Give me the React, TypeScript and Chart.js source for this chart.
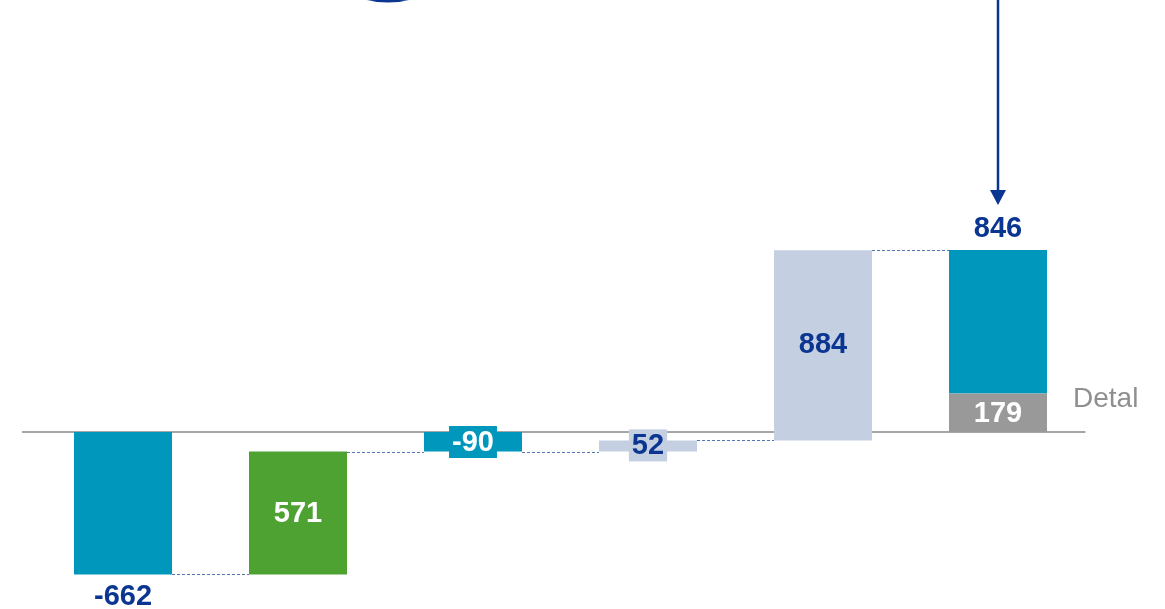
import React, { useEffect, useRef } from "react";
import { Chart, registerables } from "chart.js";

Chart.register(...registerables);

const categories = ["Start", "Step 1", "Step 2", "Step 3", "Step 4", "Total"];
const barLabels = ["-662", "571", "-90", "52", "884", "846"];
const barStart = [0, -662, -91, -91, -39, 179];
const barEnd = [-662, -91, 0, -39, 845, 846];
const connectorLevels = [-662, -91, -91, -39, 845];
const detailStart = [null, null, null, null, null, 0];
const detailEnd = [null, null, null, null, null, 179];
const detailLabel = "179";
const detailName = "Detal";

const TEAL = "#0097BC";
const GREEN = "#4EA232";
const LIGHT = "#C4CFE1";
const GRAY = "#999999";
const NAVY = "#0A3590";

const barColors = [TEAL, GREEN, TEAL, LIGHT, LIGHT, TEAL];
// label style: 0 below, 1 inside white, 2 boxed white on teal, 3 boxed navy on light, 4 inside navy, 5 above navy
const labelMode = [0, 1, 2, 3, 4, 5];

const FONT = "bold 29px 'Liberation Sans', Arial, sans-serif";

const overlay = {
  id: "overlay",
  beforeDatasetsDraw(chart: any) {
    const ctx = chart.ctx;
    const y0 = chart.scales.y.getPixelForValue(0);
    ctx.save();
    ctx.strokeStyle = "#A6A6A6";
    ctx.lineWidth = 2;
    ctx.beginPath();
    ctx.moveTo(22, y0);
    ctx.lineTo(chart.chartArea.right, y0);
    ctx.stroke();
    ctx.restore();
  },
  afterDatasetsDraw(chart: any) {
    const ctx = chart.ctx;
    const ys = chart.scales.y;
    const meta = chart.getDatasetMeta(0);
    const els = meta.data;
    ctx.save();
    // connectors
    ctx.setLineDash([3, 2]);
    ctx.lineWidth = 1;
    ctx.strokeStyle = "#5675B5";
    for (let i = 0; i < els.length - 1; i++) {
      const a = els[i];
      const b = els[i + 1];
      const level = connectorLevels[i];
      const y = Math.round(ys.getPixelForValue(level)) + 0.5;
      const ax = a.x + a.width / 2;
      const bx = b.x - b.width / 2;
      ctx.beginPath();
      ctx.moveTo(ax, y);
      ctx.lineTo(bx, y);
      ctx.stroke();
    }
    ctx.setLineDash([]);
    // labels
    ctx.font = FONT;
    ctx.textAlign = "center";
    ctx.textBaseline = "middle";
    els.forEach((el: any, i: number) => {
      const top = Math.min(el.y, el.base);
      const bottom = Math.max(el.y, el.base);
      const mid = (top + bottom) / 2;
      const t = barLabels[i];
      const mode = labelMode[i];
      if (mode === 0) {
        ctx.fillStyle = NAVY;
        ctx.fillText(t, el.x, bottom + 23);
      } else if (mode === 1) {
        ctx.fillStyle = "#FFFFFF";
        ctx.fillText(t, el.x, mid + 1);
      } else if (mode === 2 || mode === 3) {
        const w = ctx.measureText(t).width + 6;
        ctx.fillStyle = mode === 2 ? TEAL : LIGHT;
        const cy = mode === 2 ? top + 10 : top + 5;
        ctx.fillRect(el.x - w / 2, cy - 16, w, 32);
        ctx.fillStyle = mode === 2 ? "#FFFFFF" : NAVY;
        ctx.fillText(t, el.x, cy + 1);
      } else if (mode === 4) {
        ctx.fillStyle = NAVY;
        ctx.fillText(t, el.x, mid);
      } else if (mode === 5) {
        ctx.fillStyle = NAVY;
        ctx.fillText(t, el.x, top - 21);
      }
    });
    // detail segment label
    const dmeta = chart.getDatasetMeta(1);
    const d = dmeta.data[5];
    if (d) {
      const top = Math.min(d.y, d.base);
      const bottom = Math.max(d.y, d.base);
      ctx.fillStyle = "#FFFFFF";
      ctx.fillText(detailLabel, d.x, (top + bottom) / 2 + 1);
      ctx.font = "28px 'Liberation Sans', Arial, sans-serif";
      ctx.fillStyle = "#8F8F8F";
      ctx.textAlign = "left";
      ctx.fillText(detailName, 1073, 399);
    }
    // arrow
    const last = els[5];
    const ax = last.x;
    ctx.strokeStyle = NAVY;
    ctx.fillStyle = NAVY;
    ctx.lineWidth = 2.5;
    ctx.beginPath();
    ctx.moveTo(ax, 0);
    ctx.lineTo(ax, 192);
    ctx.stroke();
    ctx.beginPath();
    ctx.moveTo(ax - 8, 190);
    ctx.lineTo(ax + 8, 190);
    ctx.lineTo(ax, 205);
    ctx.closePath();
    ctx.fill();
    // partial ellipse at top
    const grad = ctx.createLinearGradient(355, 0, 420, 0);
    grad.addColorStop(0, "rgba(10,53,144,0.15)");
    grad.addColorStop(0.3, "rgba(10,53,144,1)");
    grad.addColorStop(0.7, "rgba(10,53,144,1)");
    grad.addColorStop(1, "rgba(10,53,144,0.15)");
    ctx.strokeStyle = grad;
    ctx.lineWidth = 3;
    ctx.beginPath();
    ctx.ellipse(388, -40, 60, 41, 0, 0, Math.PI);
    ctx.stroke();
    ctx.restore();
  },
};

export default function App() {
  const ref = useRef<HTMLCanvasElement | null>(null);
  useEffect(() => {
    if (!ref.current) return;
    const chart = new Chart(ref.current, {
      type: "bar",
      data: {
        labels: categories,
        datasets: [
          {
            data: barStart.map((s, i) => [s, barEnd[i]]) as any,
            backgroundColor: barColors,
            borderWidth: 0,
            grouped: false,
            order: 2,
          } as any,
          {
            data: detailStart.map((s, i) => (s === null ? null : [s, detailEnd[i]])) as any,
            backgroundColor: GRAY,
            borderWidth: 0,
            grouped: false,
            order: 1,
          } as any,
        ],
      },
      options: {
        animation: false,
        responsive: true,
        maintainAspectRatio: false,
        layout: { padding: { left: 35.5, right: 79.5, top: 0, bottom: 0 } },
        datasets: { bar: { barPercentage: 1, categoryPercentage: 0.56 } } as any,
        plugins: { legend: { display: false }, tooltip: { enabled: false } },
        scales: {
          x: { display: false, grid: { display: false } },
          y: { display: false, min: -823, max: 2009, grid: { display: false } },
        },
      },
      plugins: [overlay],
    });
    return () => chart.destroy();
  }, []);
  return (
    <div style={{ position: "absolute", left: 0, top: 0, width: 1165, height: 609, background: "#fff" }}>
      <canvas ref={ref} />
    </div>
  );
}
